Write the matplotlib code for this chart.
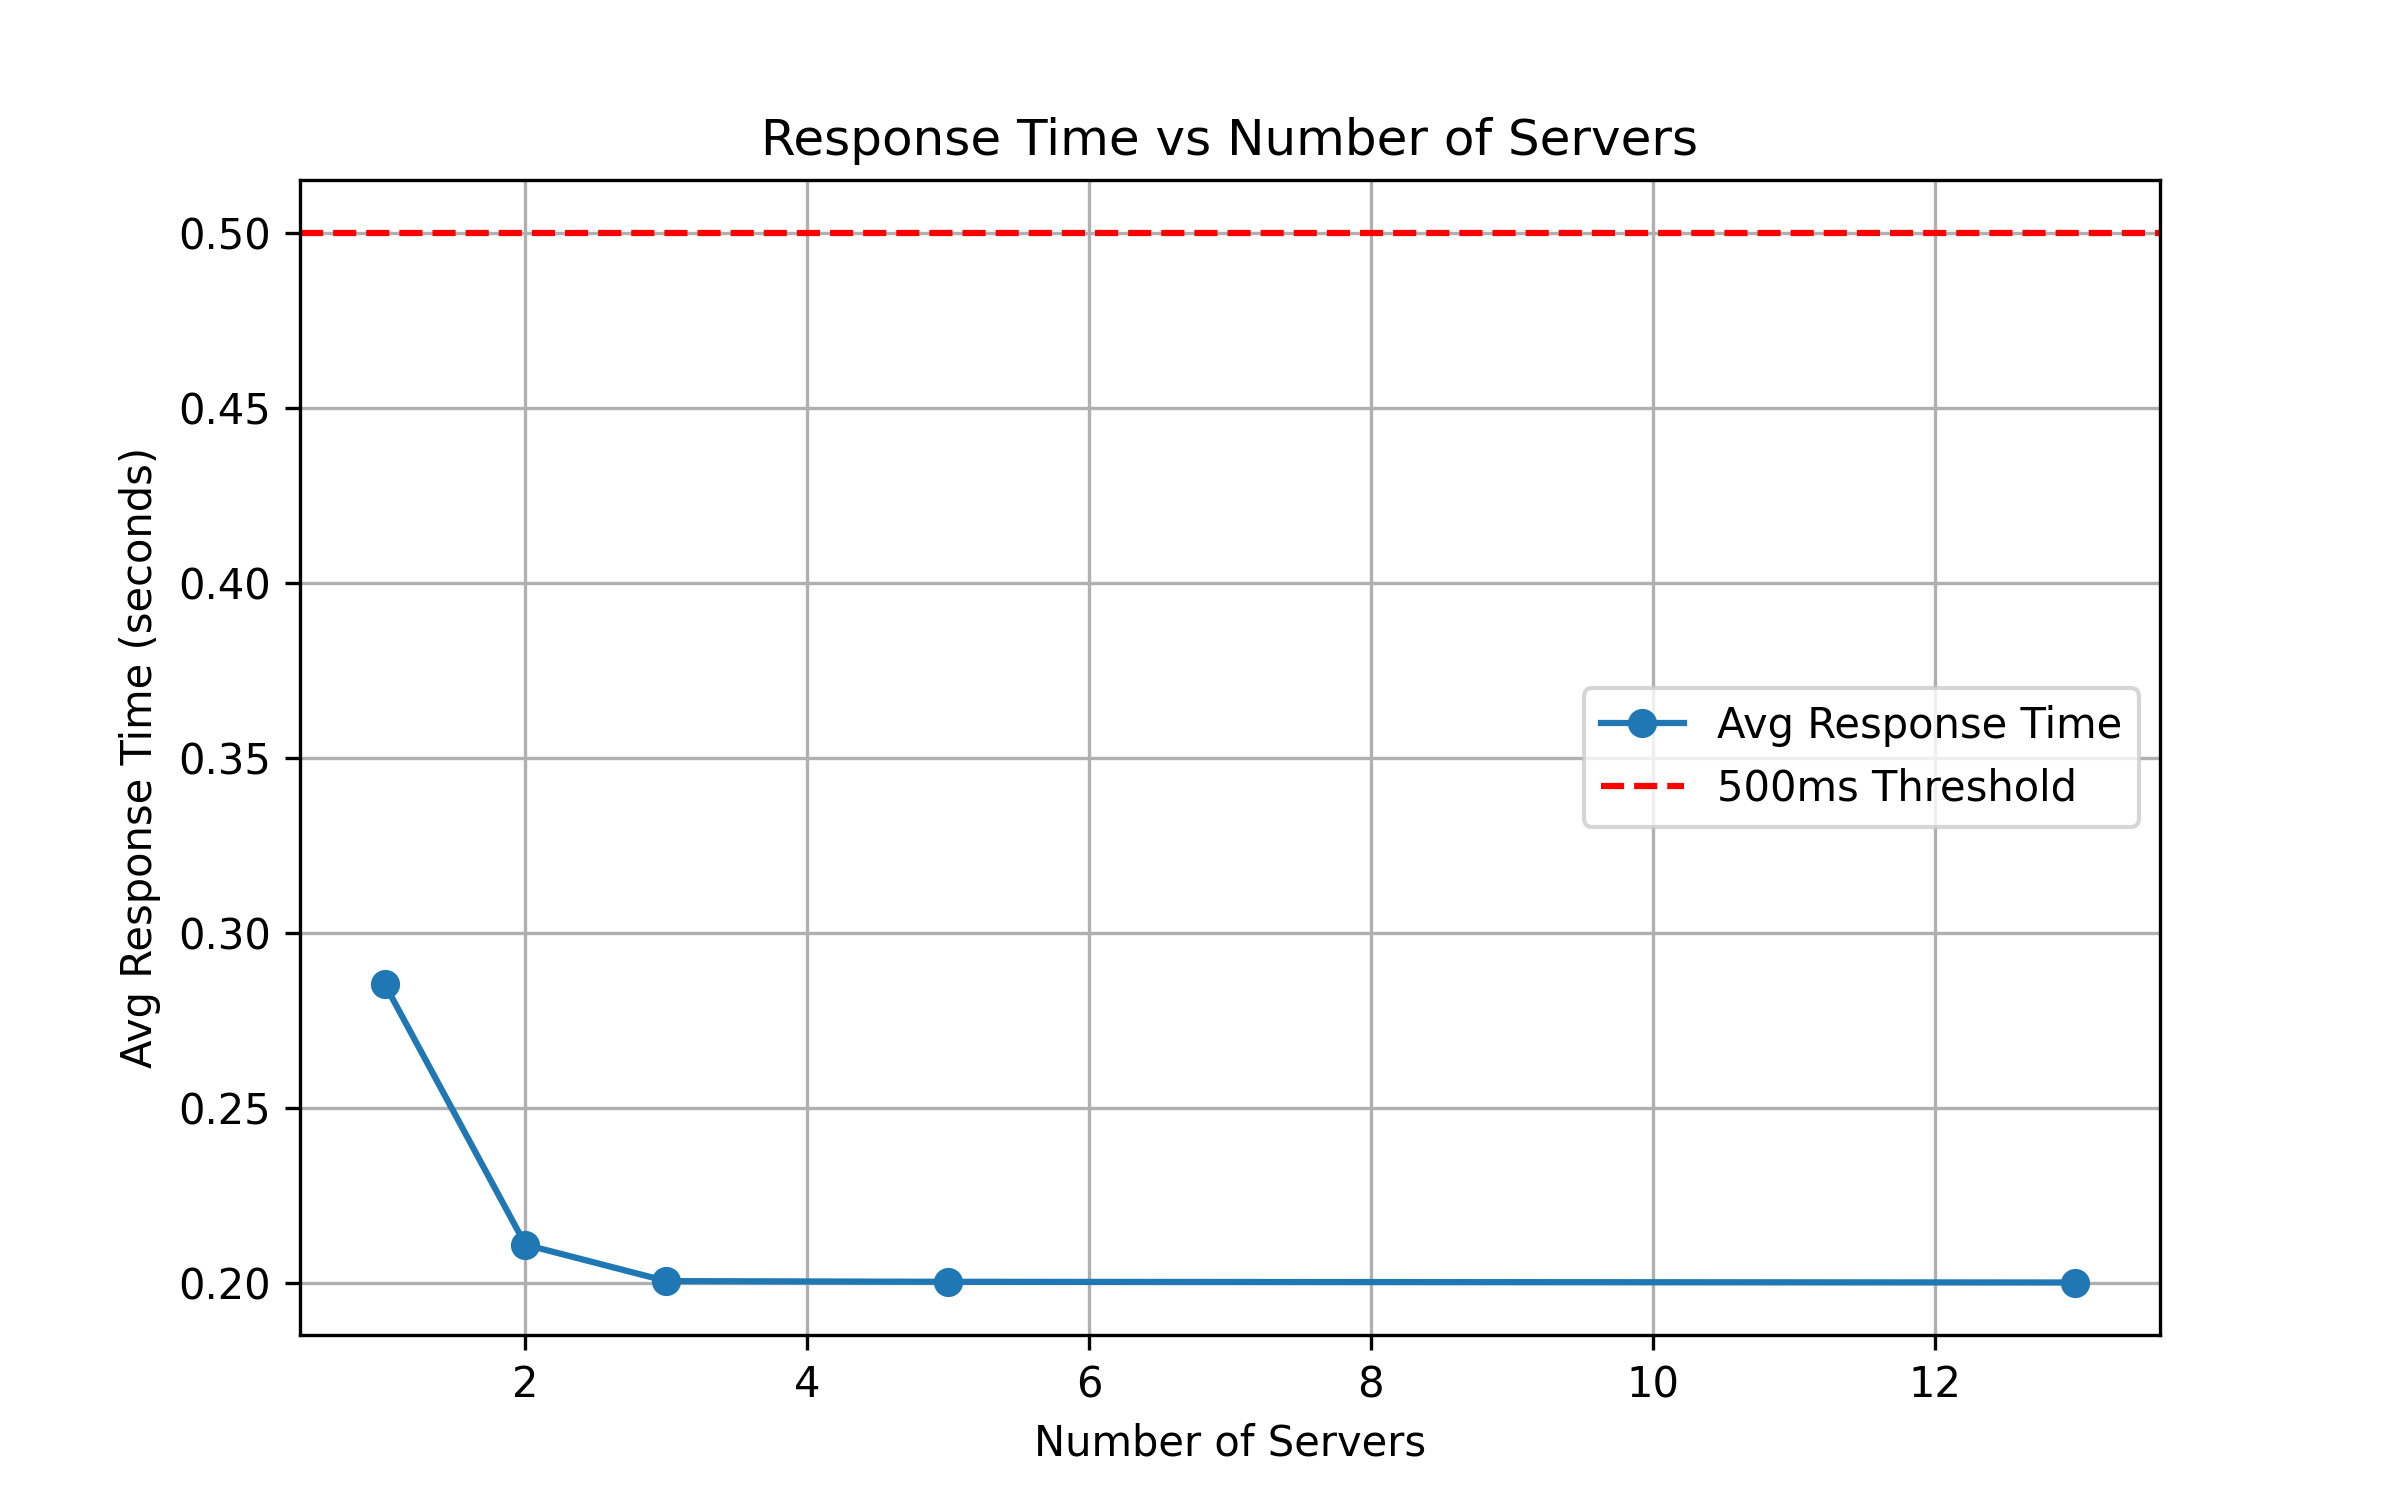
import matplotlib
matplotlib.use("Agg")
import matplotlib.pyplot as plt

# data
servers = [1, 2, 3, 5, 13]
avg_response = [0.2854, 0.2109, 0.2005, 0.2003, 0.2001]
threshold = 0.5

fig, ax = plt.subplots(figsize=(8, 5), dpi=300)
ax.plot(servers, avg_response, marker='o', label='Avg Response Time')
ax.axhline(threshold, color='r', linestyle='--', label='500ms Threshold')

ax.set_title('Response Time vs Number of Servers')
ax.set_xlabel('Number of Servers')
ax.set_ylabel('Avg Response Time (seconds)')
ax.grid(True)
ax.legend(loc='center right')

fig.savefig('out.png', dpi=300)
